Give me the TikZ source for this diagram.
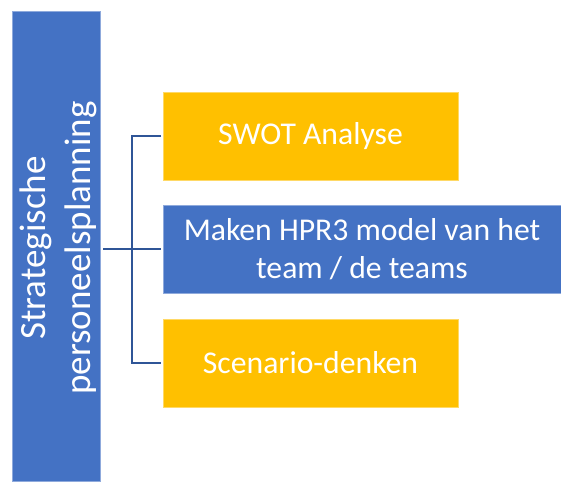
\documentclass[tikz,border=0pt]{standalone}
\usepackage{fontspec}
\setmainfont{Carlito}
\definecolor{barblue}{HTML}{4472C4}
\definecolor{boxorange}{HTML}{FFC000}
\definecolor{linkblue}{HTML}{2F5597}
\tikzset{
  block/.style={rectangle, inner sep=0pt, outer sep=0pt, align=center, text=white,
    font=\fontsize{31.7}{38}\selectfont},
  orangebox/.style={block, fill=boxorange, draw=boxorange!60!white, line width=0.6pt,
    minimum width=295pt, minimum height=88pt},
  bluebox/.style={block, fill=barblue, draw=barblue!60!white, line width=0.6pt},
  conn/.style={draw=linkblue, line width=2pt}
}
\begin{document}
\begin{tikzpicture}[x=1pt, y=-1pt]
        \useasboundingbox (0,0) rectangle (561,481);

        % Main bar
        \node[bluebox, minimum width=88pt, minimum height=470pt] (bar) at (56,246) {};
        \node[block, rotate=90, font=\fontsize{37}{45}\selectfont] (bartext)
          at ([xshift=2pt, yshift=-2pt]bar.center) {Strategische\\personeelsplanning};

        % Steps
        \node[orangebox] (swot) at (310.5,136) {SWOT Analyse};
        \node[bluebox, minimum width=398pt, minimum height=88pt] (hpr) at (362,249)
          {Maken HPR3 model van het\\team / de teams};
        \node[orangebox] (scen) at (310.5,363) {Scenario-denken};

        % Connections
        \coordinate (spine) at (131.5,249);
        \draw[conn] ([xshift=3pt]hpr.west -| bar.east) -- ([xshift=-2pt]hpr.west);
        \draw[conn] ([xshift=-2pt]swot.west) -| (spine) |- ([xshift=-2pt]scen.west);
    \end{tikzpicture}
\end{document}
